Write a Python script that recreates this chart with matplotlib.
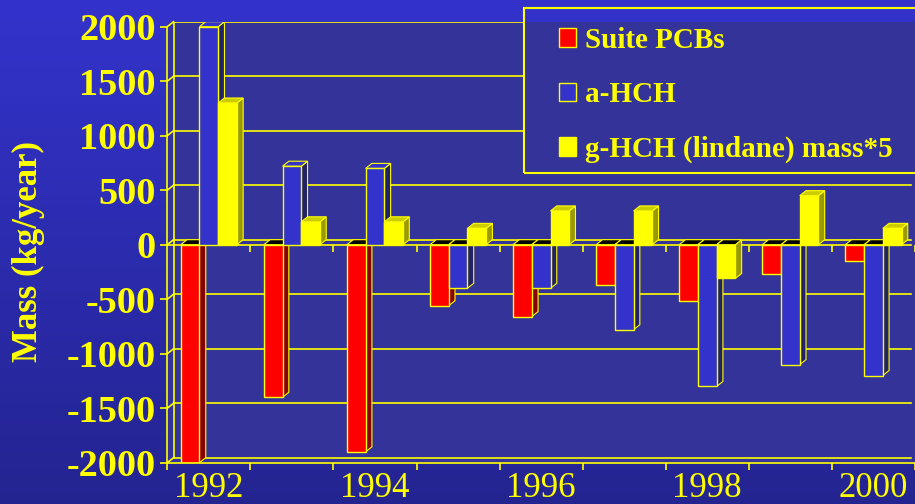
import matplotlib
matplotlib.use('Agg')
import matplotlib.pyplot as plt
import numpy as np
from matplotlib.patches import Polygon, Rectangle, Patch

# data
years = ['1992', '1993', '1994', '1995', '1996', '1997', '1998', '1999', '2000']
year_labels = ['1992', '', '1994', '', '1996', '', '1998', '', '2000']
pcbs = [-2000, -1400, -1900, -560, -660, -370, -520, -270, -150]
a_hch = [2000, 720, 700, -400, -400, -780, -1300, -1100, -1200]
g_hch = [1300, 210, 210, 150, 310, 310, -310, 450, 150]
series_names = ['Suite PCBs', 'a-HCH', 'g-HCH (lindane) mass*5']
yticks = [-2000, -1500, -1000, -500, 0, 500, 1000, 1500, 2000]

YEL = '#FFFF00'
WALL = '#333399'
front_cols = ['#FF0000', '#3333CC', '#FFFF00']
side_cols = ['#880000', '#222266', '#999900']
top_cols = ['#CC0000', '#3333CC', '#CCCC00']

W, H = 915, 504
fig = plt.figure(figsize=(W / 100, H / 100), dpi=100)

# background gradient
bg = fig.add_axes([0, 0, 1, 1], zorder=-10)
t = np.linspace(0, 1, 256)[:, None]
top_c = np.array([51, 51, 204]) / 255
bot_c = np.array([36, 36, 145]) / 255
grad = top_c[None, None, :] * (1 - t[:, :, None]) + bot_c[None, None, :] * t[:, :, None]
bg.imshow(grad, aspect='auto', extent=[0, 1, 0, 1])
bg.axis('off')

# main axes: front plane, 3D depth added by hand
px_x = 83.5            # pixels per group
px_y = 436 / 4000      # pixels per unit
dx = 6.3 / px_x
dy = 5 / px_y
xmax = -0.5 + (W - 167.3) / px_x
ax = fig.add_axes([167.3 / W, 41.3 / H, (W - 167.3) / W, 441 / H])
ax.set_facecolor(WALL)
ax.set_xlim(-0.5, xmax)
ax.set_ylim(-2000, 2000 + dy)

# back wall gridlines + left wall
for v in yticks:
    ax.plot([-0.5 + dx, xmax], [v + dy, v + dy], color=YEL, lw=1.2, zorder=1)
    ax.plot([-0.5, -0.5 + dx], [v, v + dy], color=YEL, lw=1.2, zorder=1, clip_on=False)
ax.plot([-0.5 + dx, -0.5 + dx], [-2000 + dy, 2000 + dy], color=YEL, lw=1.2, zorder=1)
ax.plot([-0.5, xmax], [0, 0], color=YEL, lw=1.2, zorder=1)
bounds = np.arange(-0.5, len(years), 1)
ax.vlines(bounds[1:], -64, 0, color=YEL, lw=1.2, zorder=1)

# bars
w = 18.8 / px_x
z = 2
for i in range(len(years)):
    for k, vals in enumerate([pcbs, a_hch, g_hch]):
        v = vals[i]
        xc = i + (k - 1) * w
        x0 = xc - w / 2
        ax.bar(xc, v, w, color=front_cols[k], edgecolor=YEL, lw=1, zorder=z + 0.5)
        side = [(x0 + w, 0), (x0 + w, v), (x0 + w + dx, v + dy), (x0 + w + dx, dy)]
        ax.add_patch(Polygon(side, closed=True, facecolor=side_cols[k], edgecolor=YEL,
                             lw=0.8, zorder=z))
        tv = max(v, 0)
        cap = [(x0, tv), (x0 + w, tv), (x0 + w + dx, tv + dy), (x0 + dx, tv + dy)]
        ax.add_patch(Polygon(cap, closed=True, facecolor=top_cols[k] if v > 0 else 'black',
                             edgecolor=YEL, lw=0.8, zorder=z))
        z += 1

for s in ['top', 'right']:
    ax.spines[s].set_visible(False)
ax.spines['left'].set_color(YEL)
ax.spines['left'].set_bounds(-2000, 2000)
ax.spines['bottom'].set_color(YEL)
ax.spines['left'].set_linewidth(1.2)
ax.spines['bottom'].set_linewidth(1.2)

ax.set_yticks(yticks)
ax.set_yticklabels([str(v) for v in yticks], fontsize=27.5, fontweight='bold',
                   family='Liberation Serif', color=YEL)
ax.tick_params(axis='y', length=5, width=1.2, color=YEL, pad=3.5)
ax.set_xticks(range(len(years)))
ax.set_xticklabels(year_labels, fontsize=25, family='Liberation Serif', color=YEL)
ax.set_xticks(bounds, minor=True)
ax.tick_params(axis='x', which='major', length=0, pad=7)
ax.tick_params(axis='x', which='minor', length=5, width=1.2, color=YEL)

fig.text(28 / W, 1 - 251 / H, 'Mass (kg/year)', rotation=90, ha='center', va='center',
         fontsize=25, fontweight='bold', family='Liberation Serif', color=YEL)

# legend box
fig.patches.append(Rectangle((524 / W, 1 - 172.7 / H), 400 / W, (172.7 - 21.7) / H,
                             transform=fig.transFigure, facecolor=WALL, edgecolor='none',
                             zorder=1))
fig.patches.append(Rectangle((524 / W, 1 - 172.7 / H), 400 / W, (172.7 - 8) / H,
                             transform=fig.transFigure, facecolor='none', edgecolor=YEL,
                             lw=1.5, zorder=2))
handles = [Patch(facecolor=c, edgecolor=YEL, lw=1) for c in front_cols]
fig.legend(handles, series_names, loc='upper left', bbox_to_anchor=(544 / W, 1 - 12 / H),
           frameon=False, borderpad=0, handlelength=0.6, handleheight=0.6,
           handletextpad=0.3, labelspacing=0.95,
           prop={'family': 'Liberation Serif', 'weight': 'bold', 'size': 21},
           labelcolor=YEL)

fig.savefig('out.png', dpi=100)
